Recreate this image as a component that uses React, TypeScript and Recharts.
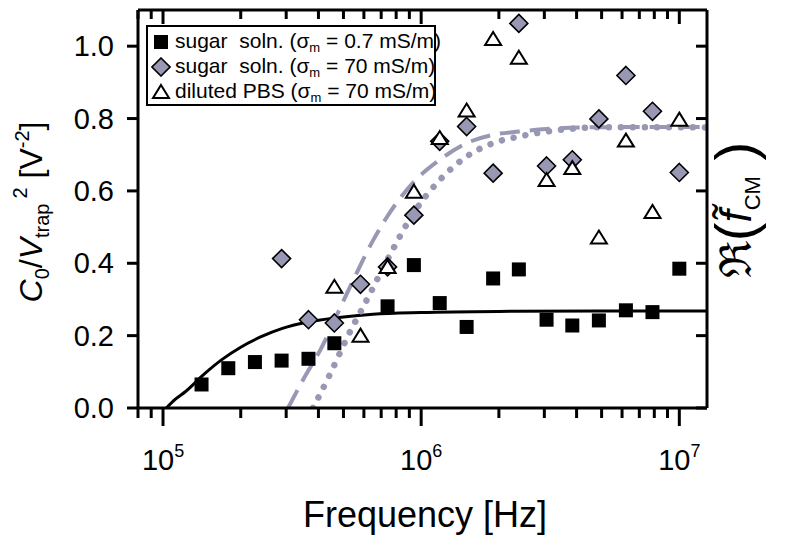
import React from 'react';
import { ComposedChart, Line, Scatter, XAxis, YAxis } from 'recharts';

// measured points (frequency in Hz, C0/Vtrap^2 in V^-2)
const sqFreq = [1.41e5, 1.79e5, 2.27e5, 2.88e5, 3.66e5, 4.61e5, 7.41e5, 9.37e5, 1.18e6, 1.5e6, 1.9e6, 2.39e6, 3.06e6, 3.85e6, 4.88e6, 6.21e6, 7.87e6, 1e7];
const sqVal = [0.065, 0.11, 0.127, 0.131, 0.136, 0.179, 0.281, 0.395, 0.29, 0.224, 0.358, 0.383, 0.244, 0.228, 0.242, 0.27, 0.265, 0.385];

const dmFreq = [2.88e5, 3.66e5, 4.61e5, 5.82e5, 7.41e5, 9.37e5, 1.18e6, 1.5e6, 1.9e6, 2.39e6, 3.06e6, 3.85e6, 4.88e6, 6.21e6, 7.87e6, 1e7];
const dmVal = [0.413, 0.244, 0.235, 0.342, 0.39, 0.533, 0.737, 0.778, 0.649, 1.063, 0.669, 0.686, 0.799, 0.919, 0.82, 0.651];

const trFreq = [4.61e5, 5.82e5, 7.41e5, 9.37e5, 1.18e6, 1.5e6, 1.9e6, 2.39e6, 3.06e6, 3.85e6, 4.88e6, 6.21e6, 7.87e6, 1e7];
const trVal = [0.335, 0.2, 0.39, 0.598, 0.746, 0.822, 1.02, 0.968, 0.63, 0.663, 0.471, 0.739, 0.542, 0.797];

// model curves
const solidFreq = [1.03e5, 1.12e5, 1.22e5, 1.45e5, 1.7e5, 2e5, 2.4e5, 2.9e5, 3.6e5, 4.8e5, 6.5e5, 1e6, 2e6, 5e6, 1.28e7];
const solidVal = [0, 0.025, 0.045, 0.095, 0.135, 0.168, 0.197, 0.22, 0.237, 0.25, 0.259, 0.264, 0.267, 0.268, 0.268];

const dashFreq = [3.05e5, 3.5e5, 4.05e5, 5.16e5, 6.52e5, 7.4e5, 9.37e5, 1.18e6, 1.5e6, 1.9e6, 2.39e6, 3.06e6, 5e6, 1.28e7];
const dashVal = [0, 0.08, 0.158, 0.317, 0.464, 0.53, 0.625, 0.686, 0.732, 0.755, 0.764, 0.771, 0.776, 0.777];

const dotFreq = [3.81e5, 4.44e5, 5.16e5, 6.17e5, 7.4e5, 9.37e5, 1.18e6, 1.5e6, 1.9e6, 2.39e6, 3.06e6, 3.85e6, 4.88e6, 1e7, 1.28e7];
const dotVal = [0, 0.094, 0.194, 0.3, 0.41, 0.54, 0.63, 0.695, 0.732, 0.75, 0.764, 0.772, 0.776, 0.776, 0.775];

const xTicks = [8e4, 9e4, 1e5, 2e5, 3e5, 4e5, 5e5, 6e5, 7e5, 8e5, 9e5, 1e6, 2e6, 3e6, 4e6, 5e6, 6e6, 7e6, 8e6, 9e6, 1e7];
const yTicks = [0, 0.2, 0.4, 0.6, 0.8, 1.0];

const zip = (xs: number[], ys: number[]) => xs.map((x, i) => ({ x, y: ys[i] }));

// no serif faces in the sandbox, Liberation Sans is the closest in width
const FONT = 'Liberation Sans, Arial, sans-serif';
const GRAY = '#9898b4';

const isMajor = (v: number) => Math.abs(Math.log10(v) - Math.round(Math.log10(v))) < 1e-6;

const BottomTick = (props: any) => {
    const { x, y, payload } = props;
    const v = payload.value;
    const major = isMajor(v);
    return (
        <g>
            <line x1={x} x2={x} y1={y} y2={y + (major ? 18 : 10)} stroke="#000" strokeWidth={3} />
            {major && (
                <text x={x} y={y + 62} textAnchor="middle" style={{ fontFamily: FONT }} fontSize={29} fill="#000">
                    10<tspan dy={-13} fontSize={18}>{Math.round(Math.log10(v))}</tspan>
                </text>
            )}
        </g>
    );
};

const TopTick = (props: any) => {
    const { x, y, payload } = props;
    const major = isMajor(payload.value);
    return <line x1={x} x2={x} y1={y} y2={y + (major ? 14 : 9)} stroke="#000" strokeWidth={3} />;
};

const LeftTick = (props: any) => {
    const { x, y, payload } = props;
    return (
        <g>
            <line x1={x} x2={x - 11} y1={y} y2={y} stroke="#000" strokeWidth={3} />
            <text x={x - 24} y={y + 10} textAnchor="end" style={{ fontFamily: FONT }} fontSize={29} fill="#000">
                {payload.value.toFixed(1)}
            </text>
        </g>
    );
};

const RightTick = (props: any) => {
    const { x, y } = props;
    return <line x1={x} x2={x - 11} y1={y} y2={y} stroke="#000" strokeWidth={3} />;
};

const squareShape = (p: any) => <rect x={p.cx - 7} y={p.cy - 7} width={14} height={14} fill="#000" />;
const diamondShape = (p: any) => (
    <polygon
        points={`${p.cx},${p.cy - 9} ${p.cx + 9},${p.cy} ${p.cx},${p.cy + 9} ${p.cx - 9},${p.cy}`}
        fill={GRAY}
        stroke="#000"
        strokeWidth={1.6}
    />
);
const triangleShape = (p: any) => (
    <polygon
        points={`${p.cx},${p.cy - 7} ${p.cx + 8},${p.cy + 6} ${p.cx - 8},${p.cy + 6}`}
        fill="#fff"
        stroke="#000"
        strokeWidth={2}
    />
);

const legendRows = [
    { key: 'sq', label: 'sugar  soln. (', val: '0.7 mS/m)' },
    { key: 'dm', label: 'sugar  soln. (', val: '70 mS/m)' },
    { key: 'tr', label: 'diluted PBS (', val: '70 mS/m)' },
];

const LegendMarker = ({ kind }: { kind: string }) => (
    <svg width={20} height={20} style={{ marginRight: 4, flex: 'none' }}>
        {kind === 'sq' && <rect x={3} y={3} width={14} height={14} fill="#000" />}
        {kind === 'dm' && <polygon points="10,1 19,10 10,19 1,10" fill={GRAY} stroke="#000" strokeWidth={1.6} />}
        {kind === 'tr' && <polygon points="10,3 18,16 2,16" fill="#fff" stroke="#000" strokeWidth={2} />}
    </svg>
);

export default function App() {
    return (
        <div style={{ position: 'absolute', left: 0, top: 0, width: 800, height: 542, background: '#fff', fontFamily: FONT }}>
            <ComposedChart width={800} height={542} margin={{ top: 9, right: 83, bottom: 94, left: 68 }}>
                <XAxis
                    xAxisId="b"
                    dataKey="x"
                    type="number"
                    scale="log"
                    domain={[8e4, 1.28e7]}
                    allowDataOverflow
                    ticks={xTicks}
                    interval={0}
                    height={40}
                    tickSize={0}
                    tickMargin={0}
                    tickLine={false}
                    tick={BottomTick}
                    axisLine={{ stroke: '#000', strokeWidth: 3 }}
                />
                <XAxis
                    xAxisId="t"
                    orientation="top"
                    dataKey="x"
                    type="number"
                    scale="log"
                    domain={[8e4, 1.28e7]}
                    allowDataOverflow
                    ticks={xTicks}
                    interval={0}
                    height={1}
                    tickSize={0}
                    tickMargin={0}
                    tickLine={false}
                    tick={TopTick}
                    axisLine={{ stroke: '#000', strokeWidth: 3 }}
                />
                <YAxis
                    yAxisId="l"
                    type="number"
                    domain={[0, 1.1]}
                    allowDataOverflow
                    ticks={yTicks}
                    interval={0}
                    width={70}
                    tickSize={0}
                    tickMargin={0}
                    tickLine={false}
                    tick={LeftTick}
                    axisLine={{ stroke: '#000', strokeWidth: 3 }}
                />
                <YAxis
                    yAxisId="r"
                    orientation="right"
                    type="number"
                    domain={[0, 1.1]}
                    allowDataOverflow
                    ticks={yTicks}
                    interval={0}
                    width={10}
                    tickSize={0}
                    tickMargin={0}
                    tickLine={false}
                    tick={RightTick}
                    axisLine={{ stroke: '#000', strokeWidth: 3 }}
                />

                <Line
                    xAxisId="b" yAxisId="l"
                    data={zip(solidFreq, solidVal)}
                    dataKey="y" type="monotone"
                    stroke="#000" strokeWidth={3}
                    dot={false} activeDot={false}
                    isAnimationActive={false}
                />
                <Line
                    xAxisId="b" yAxisId="l"
                    data={zip(dashFreq, dashVal)}
                    dataKey="y" type="monotone"
                    stroke={GRAY} strokeWidth={4} strokeDasharray="20 10"
                    dot={false} activeDot={false}
                    isAnimationActive={false}
                />
                <Line
                    xAxisId="b" yAxisId="l"
                    data={zip(dotFreq, dotVal)}
                    dataKey="y" type="monotone"
                    stroke={GRAY} strokeWidth={6.5} strokeDasharray="0.01 12" strokeLinecap="round"
                    dot={false} activeDot={false}
                    isAnimationActive={false}
                />

                <Scatter xAxisId="b" yAxisId="l" data={zip(sqFreq, sqVal)} dataKey="y" shape={squareShape} isAnimationActive={false} />
                <Scatter xAxisId="b" yAxisId="l" data={zip(dmFreq, dmVal)} dataKey="y" shape={diamondShape} isAnimationActive={false} />
                <Scatter xAxisId="b" yAxisId="l" data={zip(trFreq, trVal)} dataKey="y" shape={triangleShape} isAnimationActive={false} />
            </ComposedChart>

            {/* legend box */}
            <div
                style={{
                    position: 'absolute', left: 146, top: 25, width: 290, height: 81,
                    border: '2px solid #000', background: '#fff', fontFamily: FONT, fontSize: 21,
                    padding: '2px 0 0 3px', boxSizing: 'border-box', color: '#000', lineHeight: '25px',
                }}
            >
                {legendRows.map((r) => (
                    <div key={r.key} style={{ display: 'flex', alignItems: 'center', height: 25, whiteSpace: 'pre' }}>
                        <LegendMarker kind={r.key} />
                        <span>
                            {r.label}σ<span style={{ fontSize: 13, position: 'relative', top: 4 }}>m</span> = {r.val}
                        </span>
                    </div>
                ))}
            </div>

            {/* axis titles */}
            <svg width={800} height={542} style={{ position: 'absolute', left: 0, top: 0, pointerEvents: 'none', fontFamily: FONT }}>
                <text transform="translate(42, 212) rotate(-90)" textAnchor="middle" fontSize={32} fill="#000">
                    <tspan fontStyle="italic">C</tspan>
                    <tspan fontSize={20} dy={7}>0</tspan>
                    <tspan dy={-7}>/</tspan>
                    <tspan fontStyle="italic">V</tspan>
                    <tspan fontSize={20} dy={7}>trap</tspan>
                    <tspan fontSize={20} dy={-22} dx={5}>2</tspan>
                    <tspan dy={15}>{'  [V'}</tspan>
                    <tspan fontSize={20} dy={-13}>-2</tspan>
                    <tspan dy={13}>]</tspan>
                </text>
                <text x={425} y={527} textAnchor="middle" fontSize={36} fill="#000">
                    Frequency [Hz]
                </text>
                <text transform="translate(751, 210) rotate(-90)" textAnchor="middle" fontSize={44} fill="#000">
                    <tspan>ℜ</tspan>
                    <tspan fontSize={56} dy={3}>(</tspan>
                    <tspan fontStyle="italic" dy={-3}>{'f\u0303'}</tspan>
                    <tspan fontSize={22} dy={9}>CM</tspan>
                    <tspan fontSize={56} dy={-6}>{' )'}</tspan>
                </text>
            </svg>
        </div>
    );
}
